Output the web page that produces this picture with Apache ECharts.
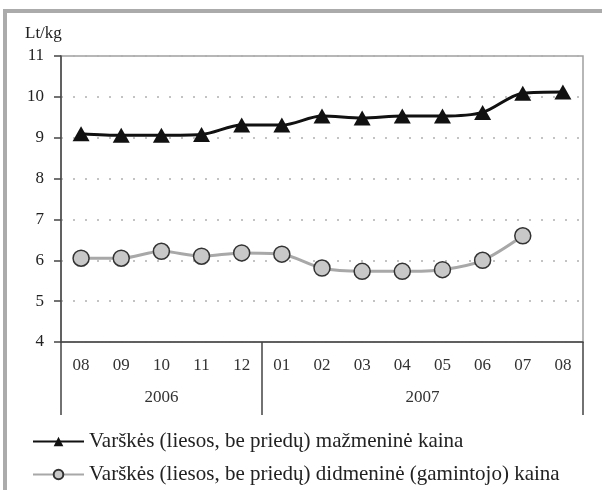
<!DOCTYPE html>
<html>
<head>
<meta charset="utf-8">
<script src="https://cdn.jsdelivr.net/npm/echarts@6/dist/echarts.min.js"></script>
<style>
    html, body { margin: 0; padding: 0; background: #fff; }
    #chart { width: 602px; height: 490px; }
</style>
</head>
<body>
<div id="chart"></div>
<script>
// months on the axis, Aug 2006 .. Aug 2007
const months = ['08', '09', '10', '11', '12', '01', '02', '03', '04', '05', '06', '07', '08']
const years = ['2006', '2007']
const yearStart = [0, 5]      // category index where each year begins
const yearEnd = [5, 13]

const retailName = 'Varškės (liesos, be priedų) mažmeninė kaina'
const wholesaleName = 'Varškės (liesos, be priedų) didmeninė (gamintojo) kaina'
const retail = [9.1, 9.06, 9.06, 9.08, 9.31, 9.31, 9.53, 9.48, 9.53, 9.53, 9.62, 10.09, 10.12]
const wholesale = [6.05, 6.05, 6.22, 6.1, 6.18, 6.15, 5.81, 5.73, 5.73, 5.77, 6.0, 6.6, null]

const yTicks = [4, 5, 6, 7, 8, 9, 10, 11]

const serif = '"Liberation Serif", "Times New Roman", serif'

const yearCenters = years.map((_, i) => (yearStart[i] + yearEnd[i]) / 2)
const yearBounds = [0, ...yearEnd]

const chart = echarts.init(document.getElementById('chart'))

chart.setOption({
    animation: false,
    backgroundColor: '#fff',
    textStyle: { fontFamily: serif },
    title: {
        text: 'Lt/kg',
        left: 20,
        top: 20,
        textStyle: { fontFamily: serif, fontSize: 17, fontWeight: 'normal', color: '#222' },
    },
    graphic: [
        {
            type: 'rect',
            silent: true,
            shape: { x: 5, y: 11, width: 700, height: 600 },
            style: { fill: 'none', stroke: '#ababab', lineWidth: 4 },
        },
    ],
    legend: {
        orient: 'vertical',
        left: 32,
        top: 431,
        width: 580,
        height: 100,
        padding: 0,
        itemWidth: 51,
        itemHeight: 12,
        itemGap: 12,
        textStyle: { fontFamily: serif, fontSize: 21, color: '#222' },
        data: [retailName, wholesaleName],
    },
    grid: {
        left: 61,
        right: 19,
        top: 56,
        bottom: 148,
        show: true,
        borderColor: '#a0a0a0',
        borderWidth: 1.5,
        outerBoundsMode: 'none',
    },
    xAxis: [
        {
            type: 'category',
            data: months,
            boundaryGap: true,
            axisLine: { lineStyle: { color: '#444', width: 1.5 } },
            axisTick: { interval: 0, length: 36, lineStyle: { color: '#444', width: 1.5 } },
            axisLabel: { interval: 0, margin: 15, fontFamily: serif, fontSize: 17, color: '#333' },
        },
        {
            type: 'value',
            position: 'bottom',
            min: 0,
            max: months.length,
            axisLine: { show: false },
            splitLine: { show: false },
            axisTick: {
                show: true,
                customValues: yearBounds,
                length: 73,
                lineStyle: { color: '#444', width: 1.5 },
            },
            axisLabel: {
                customValues: yearCenters,
                margin: 47,
                fontFamily: serif,
                fontSize: 17,
                color: '#333',
                formatter: (v) => {
                    const i = yearCenters.indexOf(v)
                    return i >= 0 ? years[i] : ''
                },
            },
        },
    ],
    yAxis: {
        type: 'value',
        min: yTicks[0],
        max: yTicks[yTicks.length - 1],
        interval: 1,
        axisLine: { show: true, lineStyle: { color: '#444', width: 1.5 } },
        axisTick: { show: true, length: 7, lineStyle: { color: '#444', width: 1.5 } },
        axisLabel: { margin: 17, fontFamily: serif, fontSize: 17, color: '#222' },
        splitLine: { lineStyle: { color: '#b0b0b0', width: 1.5, type: [2, 10] } },
    },
    series: [
        {
            name: retailName,
            type: 'line',
            data: retail,
            smooth: 0.3,
            symbol: 'triangle',
            symbolSize: [17, 15],
            lineStyle: { color: '#111', width: 3 },
            itemStyle: { color: '#111' },
            z: 3,
        },
        {
            name: wholesaleName,
            type: 'line',
            data: wholesale,
            smooth: 0.3,
            symbol: 'circle',
            symbolSize: 16,
            lineStyle: { color: '#a8a8a8', width: 3 },
            itemStyle: { color: '#c8c8c8', borderColor: '#333', borderWidth: 1.5 },
            z: 2,
        },
    ],
})
</script>
</body>
</html>
